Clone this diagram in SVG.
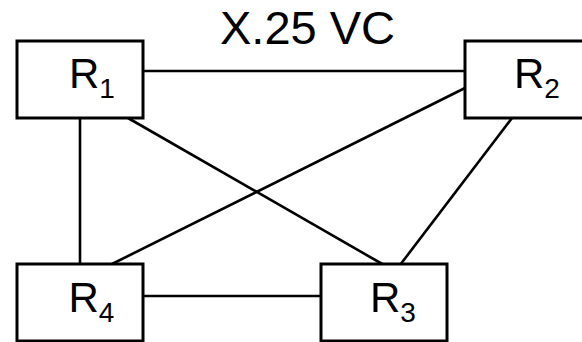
<svg xmlns="http://www.w3.org/2000/svg" width="582" height="342" viewBox="0 0 582 342">
<style>
.box{fill:#fff;stroke:#000;stroke-width:3}
.lbl{font-family:"Liberation Sans",Arial,sans-serif;font-size:42px;fill:#000}
.sub{font-size:28px}
.conn line{stroke:#000;stroke-width:2.6}
.title{font-family:"Liberation Sans",Arial,sans-serif;font-size:47px;fill:#000}
</style>
<rect width="582" height="342" fill="#fff"/>
<text class="title" x="220" y="44">X.25 VC</text>
<g id="connectors" class="conn">
<line x1="143" y1="71" x2="465" y2="71"/>
<line x1="80" y1="118" x2="80" y2="264"/>
<line x1="128" y1="118" x2="384" y2="265"/>
<line x1="465" y1="88" x2="112" y2="264"/>
<line x1="512" y1="118" x2="400" y2="265"/>
<line x1="143" y1="296" x2="321" y2="296"/>
</g>
<g id="R1">
<rect class="box" x="17" y="41" width="126" height="77"/>
<text class="lbl" x="69" y="88">R<tspan class="sub" dy="10">1</tspan></text>
</g>
<g id="R2">
<rect class="box" x="465" y="41" width="126" height="77"/>
<text class="lbl" x="514" y="88">R<tspan class="sub" dy="10">2</tspan></text>
</g>
<g id="R4">
<rect class="box" x="17" y="264" width="126" height="77"/>
<text class="lbl" x="68.5" y="312">R<tspan class="sub" dy="10">4</tspan></text>
</g>
<g id="R3">
<rect class="box" x="321" y="264" width="126" height="77"/>
<text class="lbl" x="370" y="312">R<tspan class="sub" dy="10">3</tspan></text>
</g>
</svg>
